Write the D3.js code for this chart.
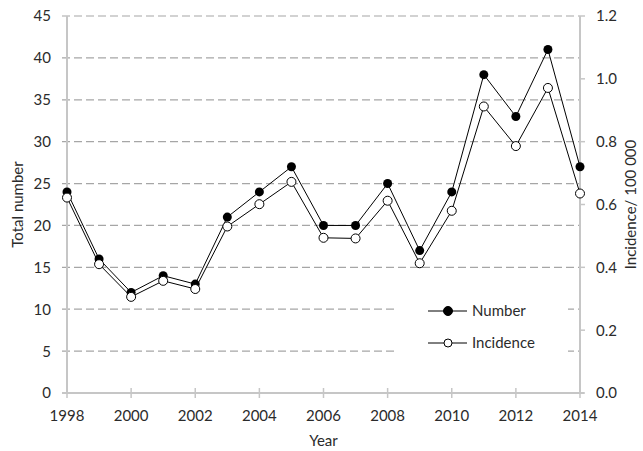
<!DOCTYPE html>
<html>
<head>
<meta charset="utf-8">
<script src="https://cdn.jsdelivr.net/npm/d3@7"></script>
<style>
body { margin: 0; background: #fff; }
text { font-family: Lato, "Open Sans", sans-serif; fill: #2b2b2b; }
</style>
</head>
<body>
<svg></svg>
<script>
var years = [1998,1999,2000,2001,2002,2003,2004,2005,2006,2007,2008,2009,2010,2011,2012,2013,2014];
var number = [24,16,12,14,13,21,24,27,20,20,25,17,24,38,33,41,27];
var incidence = [0.622,0.41,0.306,0.357,0.331,0.53,0.601,0.672,0.494,0.492,0.612,0.413,0.58,0.912,0.786,0.971,0.635];
var leftTicks = [0,5,10,15,20,25,30,35,40,45];
var rightTicks = [0,0.2,0.4,0.6,0.8,1.0,1.2];
var xTicks = [1998,2000,2002,2004,2006,2008,2010,2012,2014];

var width = 643, height = 451;
var pLeft = 67, pRight = 580, pTop = 16, pBottom = 393;

var svg = d3.select("svg").attr("width", width).attr("height", height);

var x = d3.scaleLinear().domain([1998, 2014]).range([pLeft, pRight]);
var y = d3.scaleLinear().domain([0, 45]).range([pBottom, pTop]);
var y2 = d3.scaleLinear().domain([0, 1.2]).range([pBottom, pTop]);

// dashed grid lines
svg.append("g").selectAll("line")
  .data(leftTicks.filter(d => d > 0))
  .enter().append("line")
  .attr("x1", pLeft - 5).attr("x2", pRight)
  .attr("y1", d => y(d)).attr("y2", d => y(d))
  .attr("stroke", "#a6a6a6").attr("stroke-width", 1.2)
  .attr("stroke-dasharray", "8,4");

// axes
var axisColor = "#c6c6c6";
svg.append("line").attr("x1", pLeft).attr("x2", pLeft).attr("y1", pTop).attr("y2", pBottom)
  .attr("stroke", axisColor).attr("stroke-width", 2);
svg.append("line").attr("x1", pRight).attr("x2", pRight).attr("y1", pTop).attr("y2", pBottom)
  .attr("stroke", axisColor).attr("stroke-width", 2);
svg.append("line").attr("x1", pLeft - 5).attr("x2", pRight + 4).attr("y1", pBottom).attr("y2", pBottom)
  .attr("stroke", axisColor).attr("stroke-width", 2);

// x ticks
svg.append("g").selectAll("line").data(xTicks).enter().append("line")
  .attr("x1", d => x(d)).attr("x2", d => x(d))
  .attr("y1", pBottom - 5).attr("y2", pBottom + 5)
  .attr("stroke", axisColor).attr("stroke-width", 1.5);
svg.append("g").selectAll("text").data(xTicks).enter().append("text")
  .attr("x", d => x(d)).attr("y", pBottom + 28)
  .attr("text-anchor", "middle").attr("font-size", 15)
  .text(d => d);

// left tick labels
svg.append("g").selectAll("text").data(leftTicks).enter().append("text")
  .attr("x", 51).attr("y", d => y(d)).attr("dy", "0.36em")
  .attr("text-anchor", "end").attr("font-size", 15)
  .text(d => d);

// right ticks
svg.append("g").selectAll("line").data(rightTicks).enter().append("line")
  .attr("x1", pRight).attr("x2", pRight + 5)
  .attr("y1", d => y2(d)).attr("y2", d => y2(d))
  .attr("stroke", axisColor).attr("stroke-width", 1.5);
svg.append("g").selectAll("text").data(rightTicks).enter().append("text")
  .attr("x", 596).attr("y", d => y2(d)).attr("dy", "0.36em")
  .attr("text-anchor", "start").attr("font-size", 15)
  .text(d => d3.format(".1f")(d));

// axis titles
svg.append("text").attr("transform", "translate(23," + ((pTop + pBottom) / 2) + ") rotate(-90)")
  .attr("text-anchor", "middle").attr("font-size", 15).text("Total number");
svg.append("text").attr("transform", "translate(636," + ((pTop + pBottom) / 2) + ") rotate(-90)")
  .attr("text-anchor", "middle").attr("font-size", 15).text("Incidence/ 100 000");
svg.append("text").attr("x", (pLeft + pRight) / 2).attr("y", 446)
  .attr("text-anchor", "middle").attr("font-size", 15).text("Year");

// series
var lineN = d3.line().x((d, i) => x(years[i])).y(d => y(d));
var lineI = d3.line().x((d, i) => x(years[i])).y(d => y2(d));

svg.append("path").datum(incidence).attr("d", lineI)
  .attr("fill", "none").attr("stroke", "#000").attr("stroke-width", 1);
svg.append("path").datum(number).attr("d", lineN)
  .attr("fill", "none").attr("stroke", "#000").attr("stroke-width", 1);

svg.append("g").selectAll("circle").data(number).enter().append("circle")
  .attr("cx", (d, i) => x(years[i])).attr("cy", d => y(d)).attr("r", 4.5)
  .attr("fill", "#000");
svg.append("g").selectAll("circle").data(incidence).enter().append("circle")
  .attr("cx", (d, i) => x(years[i])).attr("cy", d => y2(d)).attr("r", 4.5)
  .attr("fill", "#fff").attr("stroke", "#000").attr("stroke-width", 1);

// legend
var lg = svg.append("g");
lg.append("rect").attr("x", 398).attr("y", 292).attr("width", 170).attr("height", 70).attr("fill", "#fff");
var items = [{name: "Number", fill: "#000", yy: 311}, {name: "Incidence", fill: "#fff", yy: 343}];
items.forEach(function(it) {
  lg.append("line").attr("x1", 428).attr("x2", 467).attr("y1", it.yy).attr("y2", it.yy)
    .attr("stroke", "#000").attr("stroke-width", 1);
  lg.append("circle").attr("cx", 448).attr("cy", it.yy).attr("r", it.fill == "#000" ? 4.5 : 4)
    .attr("fill", it.fill).attr("stroke", "#000").attr("stroke-width", 1);
  lg.append("text").attr("x", 472).attr("y", it.yy).attr("dy", "0.36em")
    .attr("font-size", 15).text(it.name);
});
</script>
</body>
</html>
